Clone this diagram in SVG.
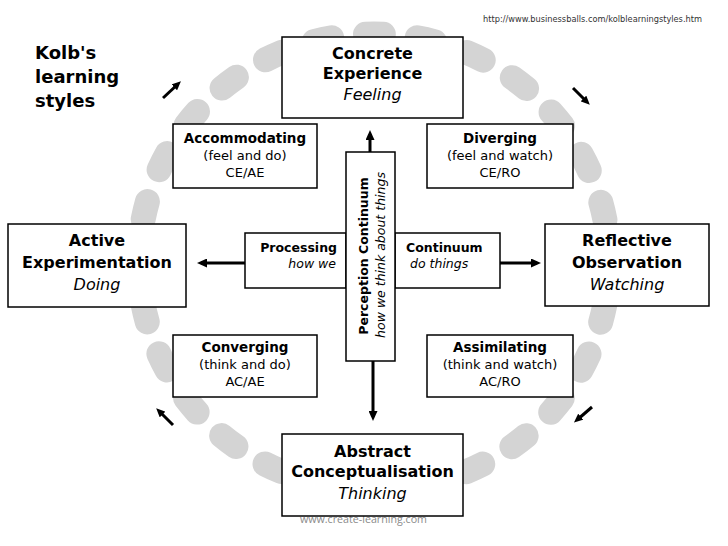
<svg xmlns="http://www.w3.org/2000/svg" width="728" height="546" viewBox="0 0 728 546">
<defs>
<marker id="head" viewBox="0 0 10 9" refX="6" refY="4.5" markerWidth="10" markerHeight="9" markerUnits="userSpaceOnUse" orient="auto"><path d="M0,0 L10,4.5 L0,9 z" fill="#000"/></marker>
<marker id="small" viewBox="0 0 9 8" refX="5" refY="4" markerWidth="9" markerHeight="8" markerUnits="userSpaceOnUse" orient="auto"><path d="M0,0 L9,4 L0,8 z" fill="#000"/></marker>
<style>
text{font-family:"DejaVu Sans",Verdana,sans-serif;fill:#000}
.box{fill:#fff;stroke:#000;stroke-width:1.5}
.big{font-size:16px;font-weight:bold;text-anchor:middle}
.bigi{font-size:16px;font-style:italic;text-anchor:middle}
.sb{font-size:13.5px;font-weight:bold;text-anchor:middle}
.sr{font-size:13px;text-anchor:middle}
.cb{font-size:12.5px;font-weight:bold}
.ci{font-size:12.5px;font-style:italic}
.title{font-size:18px;font-weight:bold}
.conn{stroke:#000;stroke-width:3;fill:none;marker-end:url(#head)}
.cyc{stroke:#000;stroke-width:3;fill:none;marker-end:url(#small)}
</style>
</defs>
<rect width="728" height="546" fill="#fff"/>
<g id="ring">
<path d="M609,262 A235,228 0 0 1 139,262 A235,228 0 0 1 609,262 Z" fill="none" stroke="#d4d4d4" stroke-width="25" stroke-linecap="round" stroke-dasharray="18 33.95" stroke-dashoffset="9"/>
</g>
<g id="title">
<text class="title" x="35" y="59">Kolb's</text>
<text class="title" x="35" y="83">learning</text>
<text class="title" x="35" y="107">styles</text>
</g>
<text x="483" y="22" font-size="8.5" style="fill:#333" textLength="219" lengthAdjust="spacingAndGlyphs">http://www.businessballs.com/kolblearningstyles.htm</text>
<text x="300" y="523" font-size="10.5" style="fill:#8a8a8a;font-family:'Open Sans','DejaVu Sans',sans-serif" textLength="127" lengthAdjust="spacingAndGlyphs">www.create-learning.com</text>
<g id="connectors">
<line class="conn" x1="370" y1="152" x2="370" y2="134"/>
<line class="conn" x1="373" y1="361" x2="373" y2="417"/>
<line class="conn" x1="245" y1="263" x2="201" y2="263"/>
<line class="conn" x1="500" y1="263" x2="537" y2="263"/>
<line class="cyc" x1="163" y1="98" x2="178" y2="84"/>
<line class="cyc" x1="573" y1="88" x2="587" y2="102"/>
<line class="cyc" x1="173" y1="425" x2="159" y2="411"/>
<line class="cyc" x1="592" y1="407" x2="577" y2="420"/>
</g>
<g id="concrete">
<rect class="box" x="282" y="37" width="181" height="81"/>
<text class="big" x="372.5" y="59">Concrete</text>
<text class="big" x="372.5" y="79">Experience</text>
<text class="bigi" x="372.5" y="100">Feeling</text>
</g>
<g id="active">
<rect class="box" x="8" y="224" width="178" height="83"/>
<text class="big" x="97" y="246">Active</text>
<text class="big" x="97" y="268">Experimentation</text>
<text class="bigi" x="97" y="290">Doing</text>
</g>
<g id="reflective">
<rect class="box" x="545" y="224" width="164" height="82"/>
<text class="big" x="627" y="246">Reflective</text>
<text class="big" x="627" y="268">Observation</text>
<text class="bigi" x="627" y="290">Watching</text>
</g>
<g id="abstract">
<rect class="box" x="282" y="434" width="181" height="82"/>
<text class="big" x="372.5" y="457">Abstract</text>
<text class="big" x="372.5" y="477">Conceptualisation</text>
<text class="bigi" x="372.5" y="499">Thinking</text>
</g>
<g id="accommodating">
<rect class="box" x="173" y="124" width="144" height="64"/>
<text class="sb" x="245" y="143">Accommodating</text>
<text class="sr" x="245" y="160">(feel and do)</text>
<text class="sr" x="245" y="177">CE/AE</text>
</g>
<g id="diverging">
<rect class="box" x="427" y="124" width="146" height="64"/>
<text class="sb" x="500" y="143">Diverging</text>
<text class="sr" x="500" y="160">(feel and watch)</text>
<text class="sr" x="500" y="177">CE/RO</text>
</g>
<g id="converging">
<rect class="box" x="173" y="335" width="144" height="62"/>
<text class="sb" x="245" y="352">Converging</text>
<text class="sr" x="245" y="369">(think and do)</text>
<text class="sr" x="245" y="386">AC/AE</text>
</g>
<g id="assimilating">
<rect class="box" x="427" y="335" width="146" height="62"/>
<text class="sb" x="500" y="352">Assimilating</text>
<text class="sr" x="500" y="369">(think and watch)</text>
<text class="sr" x="500" y="386">AC/RO</text>
</g>
<g id="processing">
<rect class="box" x="245" y="233" width="101" height="55"/>
<text class="cb" x="337" y="252" text-anchor="end">Processing</text>
<text class="ci" x="336" y="268" text-anchor="end">how we</text>
</g>
<g id="continuum">
<rect class="box" x="395" y="233" width="105" height="55"/>
<text class="cb" x="406" y="252">Continuum</text>
<text class="ci" x="410" y="268">do things</text>
</g>
<g id="perception">
<rect class="box" x="346" y="152" width="49" height="209"/>
<text class="cb" text-anchor="middle" transform="translate(368,256) rotate(-90)">Perception Continuum</text>
<text class="ci" text-anchor="middle" transform="translate(385,255) rotate(-90)">how we think about things</text>
</g>
</svg>
